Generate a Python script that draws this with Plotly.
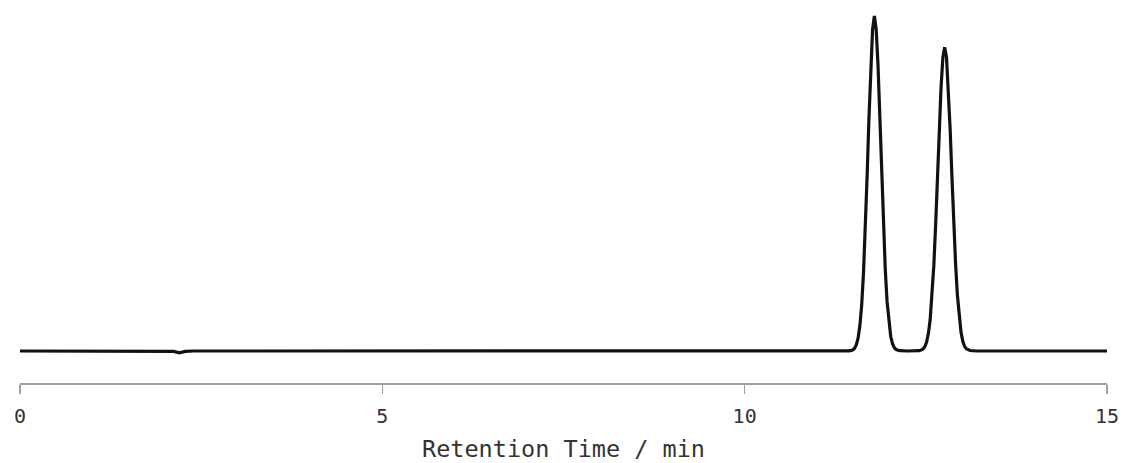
import plotly.graph_objects as go

# Retention time (min) and detector signal (arbitrary units)
time_min = [
    0.0, 1.0, 2.0, 2.12, 2.2, 2.28, 2.4, 3.0, 5.0, 6.67, 8.0, 10.0, 11.0, 11.4,
    11.44, 11.49, 11.515, 11.54, 11.565, 11.59, 11.615, 11.64, 11.665, 11.69,
    11.715, 11.74, 11.765, 11.79, 11.815, 11.84, 11.865, 11.89, 11.915, 11.94,
    11.965, 11.99, 12.015, 12.04, 12.065, 12.09, 12.14, 12.25, 12.3,
    12.41, 12.46, 12.485, 12.51, 12.535, 12.56, 12.585, 12.61, 12.635, 12.66,
    12.685, 12.71, 12.735, 12.76, 12.785, 12.81, 12.835, 12.86, 12.885, 12.91,
    12.935, 12.96, 12.985, 13.01, 13.035, 13.06, 13.11, 13.2, 13.35, 14.0, 15.0,
]
signal = [
    0.0, 0.0, 0.0, -0.1, -0.55, -0.1, 0.0, 0.0, 0.0, 0.0, 0.0, 0.0, 0.0, 0.0,
    0.04, 0.30, 0.76, 1.8, 3.8, 7.6, 13.8, 23.4, 36.5, 52.4,
    69.5, 85.1, 96.0, 100.0, 96.0, 85.3, 70.0, 53.2, 37.5, 24.5,
    14.8, 8.4, 4.4, 2.2, 1.0, 0.45, 0.1, 0.0, 0.0,
    0.09, 0.56, 1.26, 2.6, 5.2, 9.4, 16.0, 25.4, 37.5, 51.5,
    66.0, 78.7, 87.6, 90.7, 87.7, 79.0, 66.5, 52.2, 38.3, 26.3,
    16.8, 10.1, 5.7, 2.9, 1.4, 0.65, 0.15, 0.0, 0.0, 0.0, 0.0,
]
x_ticks = [0, 5, 10, 15]
x_title = "Retention Time / min"

fig = go.Figure(
    go.Scatter(
        x=time_min, y=signal, mode="lines",
        line=dict(color="#111111", width=3.2),
        hoverinfo="skip", showlegend=False,
    )
)

fig.update_layout(
    width=1123, height=463,
    margin=dict(l=20, r=16, t=10, b=80),
    paper_bgcolor="white", plot_bgcolor="white",
    font=dict(family="DejaVu Sans Mono", color="#333333", size=20),
)
fig.update_xaxes(
    range=[0, 15], tickvals=x_ticks, ticktext=[str(v) for v in x_ticks],
    automargin=False, ticklabeloverflow="allow",
    showline=True, linecolor="#a0a0a0", linewidth=1.5,
    ticks="outside", ticklen=9, tickcolor="#a0a0a0", tickwidth=1.5,
    ticklabelstandoff=5,
    showgrid=False, zeroline=False,
    tickfont=dict(family="DejaVu Sans Mono", size=20, color="#333333"),
    title=dict(text=x_title, font=dict(family="DejaVu Sans Mono", size=23.5, color="#333333"), standoff=21),
)
fig.update_yaxes(range=[-9.55, 101.8], visible=False, showgrid=False, zeroline=False)

fig.write_html(
    "out.html",
    config={"displayModeBar": False, "staticPlot": True},
    post_script="document.body.style.margin='0';document.body.style.overflow='hidden';",
)
